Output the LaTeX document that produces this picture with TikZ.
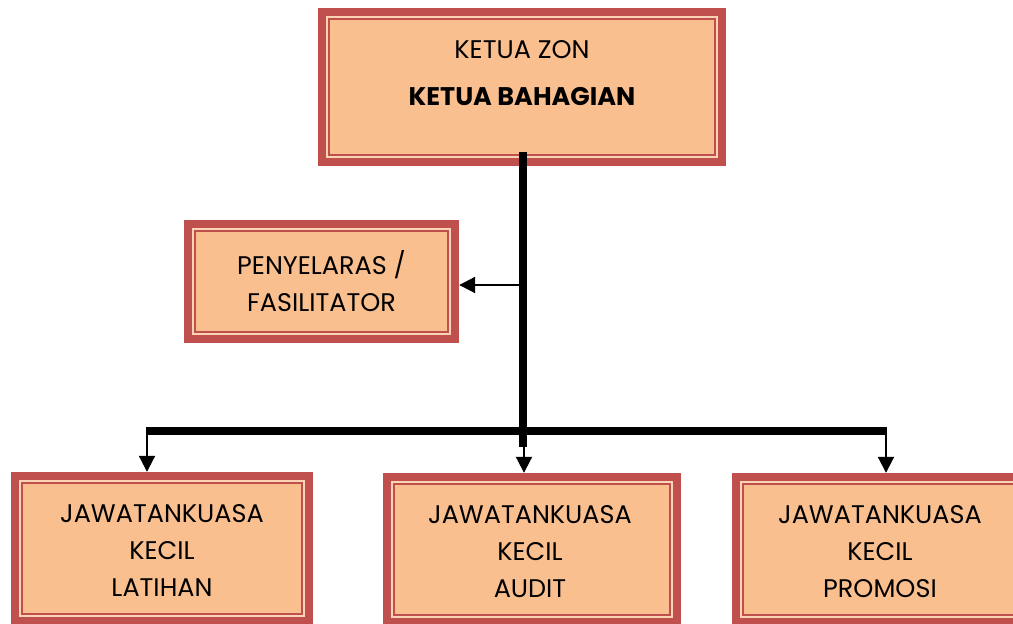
\documentclass[tikz,border=0pt]{standalone}
\usepackage{fontspec}
\setmainfont{Poppins}
\usetikzlibrary{arrows.meta}
\definecolor{framec}{HTML}{C0504D}
\definecolor{fillc}{HTML}{FABF8F}
\definecolor{linec}{HTML}{FBD4B4}
\tikzset{
  box/.style={rectangle, fill=framec, inner sep=0pt, align=center,
    font=\fontsize{25.5}{37}\selectfont,
    path picture={
      \fill[linec] ([shift={(8pt,8pt)}]path picture bounding box.south west) rectangle ([shift={(-8pt,-8pt)}]path picture bounding box.north east);
      \fill[framec] ([shift={(10pt,10pt)}]path picture bounding box.south west) rectangle ([shift={(-10pt,-10pt)}]path picture bounding box.north east);
      \fill[fillc] ([shift={(12pt,12pt)}]path picture bounding box.south west) rectangle ([shift={(-12pt,-12pt)}]path picture bounding box.north east);
    }},
  txt/.style={align=center, inner sep=0pt, font=\fontsize{25.5}{37}\selectfont},
  trunk/.style={line width=8pt},
  arr/.style={line width=2pt, -{Triangle[width=16pt,length=16pt]}},
}
\begin{document}
\begin{tikzpicture}[x=1pt,y=-1pt]
\useasboundingbox (0,0) rectangle (1013,624);
\fill[white] (0,0) rectangle (1013,624);
% boxes
\node[box, minimum width=408pt, minimum height=158pt] (top) at (522,87) {};
\node[txt] (toptext) at (522,73.5) {KETUA ZON\\[10pt]\textbf{KETUA BAHAGIAN}};
\node[box, minimum width=275pt, minimum height=123pt] (pen) at (321.5,281.5) {PENYELARAS /\\FASILITATOR};
\node[box, minimum width=302pt, minimum height=153pt] (b1) at (162,548.5) {};
\node[txt] (b1text) at (162,550) {JAWATANKUASA\\KECIL\\LATIHAN};
\node[box, minimum width=298pt, minimum height=153pt] (b2) at (532,549.5) {};
\node[txt] (b2text) at (530,552) {JAWATANKUASA\\KECIL\\AUDIT};
\node[box, minimum width=296pt, minimum height=153pt] (b3) at (880,549.5) {};
\node[txt] (b3text) at (880,552) {JAWATANKUASA\\KECIL\\PROMOSI};
% connectors
\coordinate (tstart) at (523,152);
\coordinate (tend) at (523,447);
\coordinate (penj) at (523,285);
\coordinate (barL) at (147,430.5);
\coordinate (barR) at (886,430.5);
\coordinate (c2) at (524,447);
\draw[trunk] (tstart) -- (tend);
\draw[trunk] ([xshift=-1pt]barL) -- ([xshift=1pt]barR);
\draw[arr] (penj) -- (penj -| pen.east);
\draw[arr] (barL) -- (barL |- b1.north);
\draw[arr] (c2) -- (c2 |- b2.north);
\draw[arr] (barR) -- (barR |- b3.north);
\end{tikzpicture}
\end{document}
